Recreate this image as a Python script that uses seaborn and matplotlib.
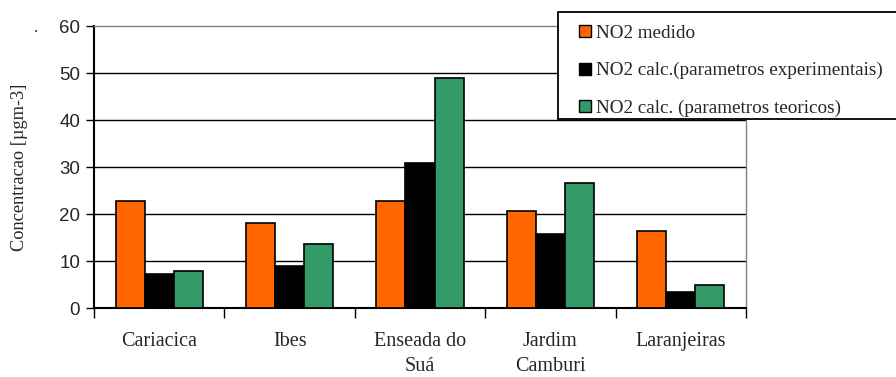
import matplotlib

matplotlib.use("Agg")
import matplotlib.pyplot as plt
import seaborn as sns
import pandas as pd
import numpy as np

# ===================== dados =====================
locais = ["Cariacica", "Ibes", "Enseada do\nSuá", "Jardim\nCamburi", "Laranjeiras"]
series = ["NO2 medido",
          "NO2 calc.(parametros experimentais)",
          "NO2 calc. (parametros teoricos)"]
no2_medido = [22.8, 18.1, 22.8, 20.6, 16.4]
no2_calc_exp = [7.2, 8.9, 30.9, 15.7, 3.4]
no2_calc_teo = [7.9, 13.6, 48.9, 26.7, 4.9]
cores = ["#FF6600", "#000000", "#339966"]

df = pd.DataFrame({
    "local": locais * 3,
    "serie": np.repeat(series, len(locais)),
    "valor": no2_medido + no2_calc_exp + no2_calc_teo,
})

# ===================== figura =====================
sns.set_style("white")
plt.rcParams["font.family"] = ["Liberation Serif", "DejaVu Serif"]

fig = plt.figure(figsize=(8.96, 3.77), dpi=100)
ax = fig.add_axes([0.105, 0.183, 0.7276, 0.748])

sns.barplot(data=df, x="local", y="valor", hue="serie", palette=cores,
            order=locais, hue_order=series, width=0.67, gap=0, saturation=1,
            edgecolor="black", linewidth=1.2, ax=ax, legend=False, zorder=3)

ax.set_ylim(0, 60)
ax.set_xlim(-0.5, len(locais) - 0.5)
ax.set_yticks(range(0, 61, 10))
ax.set_yticklabels([str(v) for v in range(0, 61, 10)],
                   family="Liberation Sans", fontsize=13.5)
ax.tick_params(axis="y", length=6, width=1, color="black", pad=4, left=True)

# categorias
ax.set_xticks(range(len(locais)))
ax.set_xticklabels(locais, fontsize=14.5, linespacing=1.42)
ax.tick_params(axis="x", which="major", length=0, pad=17)
ax.set_xticks(np.arange(-0.5, len(locais), 1), minor=True)
ax.tick_params(axis="x", which="minor", length=7, width=1, color="black",
               bottom=True)

# grade
for v in range(10, 60, 10):
    ax.axhline(v, color="black", linewidth=1, zorder=1)

for s in ["left", "bottom"]:
    ax.spines[s].set_color("black")
    ax.spines[s].set_linewidth(1.5)
for s in ["top", "right"]:
    ax.spines[s].set_color("#808080")
    ax.spines[s].set_linewidth(1)

ax.set_xlabel("")
ax.set_ylabel("Concentracao [µgm-3]", fontsize=13.2)
ax.yaxis.set_label_coords(-0.101, 0.5)

fig.text(0.038, 0.915, ".", fontsize=12)

# legenda (moldura desenhada à parte)
moldura = plt.Rectangle((558 / 896, 1 - 119 / 377), 0.5, 107 / 377,
                        transform=fig.transFigure, facecolor="white",
                        edgecolor="black", linewidth=1.3, zorder=5)
fig.patches.append(moldura)
handles = [plt.Rectangle((0, 0), 1, 1, facecolor=c, edgecolor="black", linewidth=1)
           for c in cores]
leg = fig.legend(handles, series, loc="upper left",
                 bbox_to_anchor=(579 / 896, 1 - 25 / 377), fontsize=13.8,
                 frameon=False,
                 handlelength=0.6, handleheight=0.6, handletextpad=0.3,
                 labelspacing=1.05, borderpad=0, borderaxespad=0)
leg.set_zorder(6)

plt.savefig("out.png", dpi=100)
plt.close()
